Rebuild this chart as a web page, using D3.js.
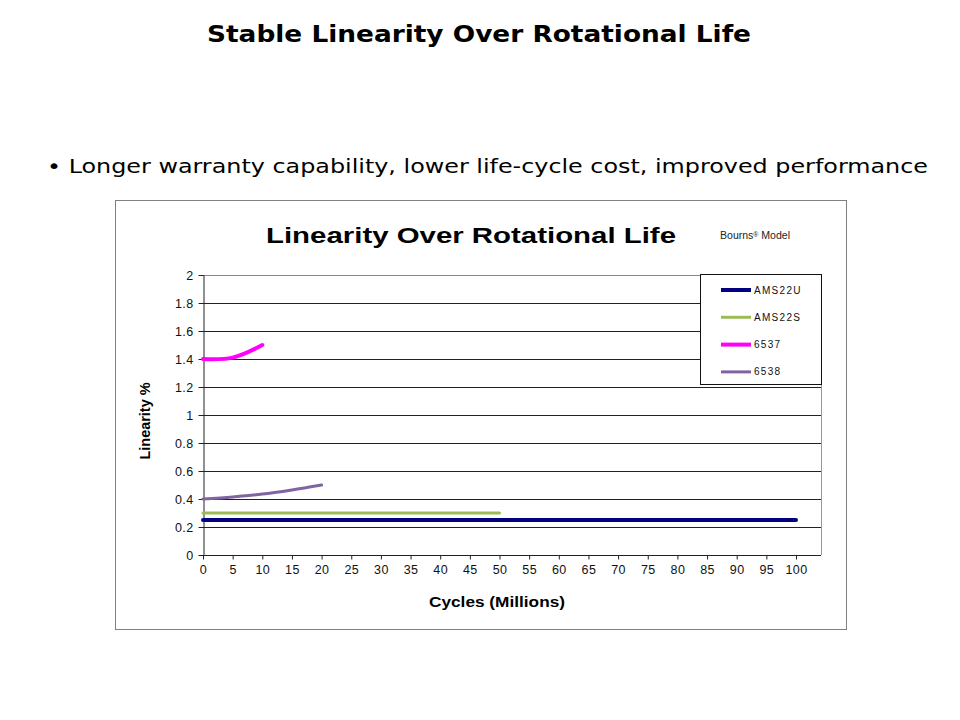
<!DOCTYPE html>
<html><head><meta charset="utf-8">
<script src="https://cdn.jsdelivr.net/npm/d3@7"></script>
<style>body{margin:0;background:#fff}svg{display:block}</style>
</head><body>
<svg id="c" width="960" height="720"></svg>
<script>
const xTicks = d3.range(0, 101, 5);
const yTicks = [0, 0.2, 0.4, 0.6, 0.8, 1, 1.2, 1.4, 1.6, 1.8, 2];
const seriesNames = ["AMS22U", "AMS22S", "6537", "6538"];
const seriesColors = ["#000080", "#9BBB59", "#FF00FF", "#8064A2"];
const seriesWidths = [4, 3, 4, 3];
const ams22uX = [0, 100], ams22uY = [0.25, 0.25];
const ams22sX = [0, 50], ams22sY = [0.3, 0.3];
const s6537X = [0, 5, 10], s6537Y = [1.40, 1.41, 1.50];
const s6538X = [0, 5, 10, 15, 20], s6538Y = [0.40, 0.415, 0.435, 0.465, 0.50];
const seriesX = [ams22uX, ams22sX, s6537X, s6538X];
const seriesY = [ams22uY, ams22sY, s6537Y, s6538Y];

const svg = d3.select("#c");
const F = "'Liberation Sans', Arial, sans-serif";

// slide title & bullet
svg.append("text").attr("x", 479).attr("y", 42).attr("text-anchor", "middle")
  .attr("font-family", "'DejaVu Sans', Tahoma, sans-serif").attr("font-weight", "bold")
  .attr("font-size", 23).attr("textLength", 544).attr("lengthAdjust", "spacingAndGlyphs")
  .text("Stable Linearity Over Rotational Life");
svg.append("text").attr("x", 47).attr("y", 173)
  .attr("font-family", "'DejaVu Sans', Tahoma, sans-serif")
  .attr("font-size", 20).attr("textLength", 881).attr("lengthAdjust", "spacingAndGlyphs")
  .text("• Longer warranty capability, lower life-cycle cost, improved performance");

// chart box
svg.append("rect").attr("x", 115.5).attr("y", 200.5).attr("width", 731).attr("height", 429)
  .attr("fill", "#fff").attr("stroke", "#808080");

svg.append("text").attr("x", 471).attr("y", 243).attr("text-anchor", "middle")
  .attr("font-family", F).attr("font-weight", "bold").attr("font-size", 22.5)
  .attr("textLength", 410).attr("lengthAdjust", "spacingAndGlyphs")
  .text("Linearity Over Rotational Life");
const bm = svg.append("text").attr("x", 720).attr("y", 239)
  .attr("font-family", F).attr("font-size", 10).attr("fill", "#222")
  .attr("textLength", 70).attr("lengthAdjust", "spacingAndGlyphs");
bm.append("tspan").text("Bourns");
bm.append("tspan").attr("font-size", 6.5).attr("dy", -2).text("®");
bm.append("tspan").attr("dy", 2).text(" Model");

const x = d3.scaleLinear().domain([0, 100]).range([203, 796]);
const y = d3.scaleLinear().domain([0, 2]).range([555, 275]);
const right = 821;

// plot frame
svg.append("line").attr("x1", right + 0.5).attr("x2", right + 0.5).attr("y1", 275).attr("y2", 555)
  .attr("stroke", "#999");
// gridlines
svg.append("g").selectAll("line").data(yTicks.filter(d => d > 0)).join("line")
  .attr("x1", 203).attr("x2", right).attr("y1", d => Math.round(y(d)) + 0.5).attr("y2", d => Math.round(y(d)) + 0.5)
  .attr("stroke", d => d === 2 ? "#888" : "#222").attr("stroke-width", 1);

// axes
const yAxis = d3.axisLeft(y).tickValues(yTicks).tickSize(4).tickPadding(6).tickFormat(d3.format("~g"));
const gy = svg.append("g").attr("transform", "translate(203.5,0)").call(yAxis);
const xAxis = d3.axisBottom(x).tickValues(xTicks).tickSize(4).tickPadding(6).tickSizeOuter(0);
const gx = svg.append("g").attr("transform", "translate(0,555.5)").call(xAxis);
gx.select(".domain").attr("d", `M203,0H${right}`);
[gx, gy].forEach(g => {
  g.selectAll("text").attr("font-family", F).attr("font-size", 12.5).attr("fill", "#111")
    .attr("letter-spacing", 0.4);
  g.selectAll("line").attr("stroke", "#222");
  g.select(".domain").attr("stroke", "#222");
});
gy.selectAll(".tick line").attr("x2", -5);
gy.selectAll("text").attr("x", -10);

svg.append("text").attr("transform", "translate(150,421) rotate(-90)").attr("text-anchor", "middle")
  .attr("font-family", F).attr("font-weight", "bold").attr("font-size", 15)
  .attr("textLength", 77).attr("lengthAdjust", "spacingAndGlyphs").text("Linearity %");
svg.append("text").attr("x", 497).attr("y", 607).attr("text-anchor", "middle")
  .attr("font-family", F).attr("font-weight", "bold").attr("font-size", 15.5)
  .attr("textLength", 136).attr("lengthAdjust", "spacingAndGlyphs").text("Cycles (Millions)");

// series
const line = d3.line().x(d => x(d[0])).y(d => y(d[1])).curve(d3.curveCatmullRom.alpha(0.5));
seriesNames.forEach((n, i) => {
  const pts = seriesX[i].map((v, j) => [v, seriesY[i][j]]);
  svg.append("path").datum(pts).attr("d", line).attr("fill", "none")
    .attr("stroke", seriesColors[i]).attr("stroke-width", seriesWidths[i]).attr("stroke-linecap", "round");
});

// legend
svg.append("rect").attr("x", 700.5).attr("y", 274.5).attr("width", 121).attr("height", 110)
  .attr("fill", "#fff").attr("stroke", "#111");
const lg = svg.append("g").selectAll("g").data(seriesNames).join("g")
  .attr("transform", (d, i) => `translate(0,${290 + i * 27.3})`);
lg.append("line").attr("x1", 721).attr("x2", 751).attr("y1", 0).attr("y2", 0)
  .attr("stroke", (d, i) => seriesColors[i]).attr("stroke-width", (d, i) => seriesWidths[i]);
lg.append("text").attr("x", 754).attr("y", 3.5).attr("font-family", F).attr("font-size", 10)
  .attr("letter-spacing", 1.3).attr("fill", "#111").text(d => d);
</script>
</body></html>
